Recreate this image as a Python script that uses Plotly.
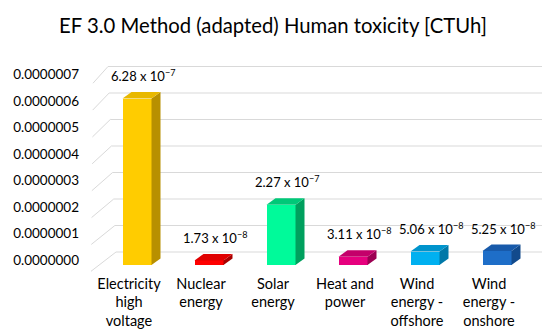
import plotly.graph_objects as go

# ---------------- data ----------------
categories = ["Electricity<br>high<br>voltage", "Nuclear<br>energy", "Solar<br>energy",
              "Heat and<br>power", "Wind<br>energy -<br>offshore", "Wind<br>energy -<br>onshore"]
values = [6.28e-7, 1.73e-8, 2.27e-7, 3.11e-8, 5.06e-8, 5.25e-8]
value_labels = ["6.28 x 10<sup>\u22127</sup>", "1.73 x 10<sup>\u22128</sup>", "2.27 x 10<sup>\u22127</sup>",
                "3.11 x 10<sup>\u22128</sup>", "5.06 x 10<sup>\u22128</sup>", "5.25 x 10<sup>\u22128</sup>"]
y_ticks = [0, 1e-7, 2e-7, 3e-7, 4e-7, 5e-7, 6e-7, 7e-7]
y_tick_text = ["0.0000000", "0.0000001", "0.0000002", "0.0000003",
               "0.0000004", "0.0000005", "0.0000006", "0.0000007"]

front_colors = ["#FFCC00", "#FF0000", "#00FA9A", "#E6007E", "#00B0F0", "#1E6EC8"]
top_colors = ["#E8B800", "#E00000", "#00C878", "#C4006A", "#0094CC", "#185AAA"]
side_colors = ["#B89000", "#A80000", "#00A05E", "#9C0052", "#0078A8", "#124A8C"]

# ---------------- geometry helpers (pixel scale of the picture) ----------------
W, H = 550, 329
L, R, T, B = 82, 5, 50, 64
X0_PX, X_STEP = 121, 72          # category centre pixel / spacing
Y0_PX, Y_UNIT = 257, 26.5        # front-plane zero / pixels per 1e-7


def xd(px):
    return (px - X0_PX) / X_STEP


def yd(px):
    return (Y0_PX - px) / Y_UNIT * 1e-7


def dxd(px):
    return px / X_STEP


def dyd(px):
    return px / Y_UNIT * 1e-7


bar_off = dxd(8)        # bar front centre offset from category centre
bar_w = dxd(29)
depth_x = dxd(9)
depth_y = dyd(6.5)

fig = go.Figure()

xs = [i + bar_off for i in range(len(values))]
fig.add_trace(go.Bar(x=xs, y=values, width=bar_w, marker=dict(color=front_colors, line=dict(width=0)),
                     showlegend=False, hoverinfo="skip"))

for i, v in enumerate(values):
    xl = xs[i] - bar_w / 2
    xr = xs[i] + bar_w / 2
    # side face
    fig.add_trace(go.Scatter(x=[xr, xr, xr + depth_x, xr + depth_x, xr],
                             y=[0, v, v + depth_y, depth_y, 0],
                             fill="toself", fillcolor=side_colors[i], mode="lines",
                             line=dict(width=0, color=side_colors[i]), showlegend=False, hoverinfo="skip"))
    # top face
    fig.add_trace(go.Scatter(x=[xl, xr, xr + depth_x, xl + depth_x, xl],
                             y=[v, v, v + depth_y, v + depth_y, v],
                             fill="toself", fillcolor=top_colors[i], mode="lines",
                             line=dict(width=0, color=top_colors[i]), showlegend=False, hoverinfo="skip"))
    fig.add_annotation(x=xs[i] + dxd(6), y=v, text=value_labels[i], showarrow=False,
                       yanchor="middle", yshift=23, font=dict(family="Lato", size=13, color="#000000"))

# back wall gridlines and slanted floor/side lines
grid_color = "#D9D9D9"
back_off = 13
for k, t in enumerate(y_ticks):
    frac = k / (len(y_ticks) - 1)
    back_y_px = Y0_PX - back_off - t / 1e-7 * Y_UNIT
    back_x_px = 108 - 8 * frac
    front_x_px = 83 + 2 * frac
    front_y_px = back_y_px + 19.3 - 2.6 * frac
    fig.add_shape(type="line", x0=xd(back_x_px), x1=xd(543), y0=yd(back_y_px), y1=yd(back_y_px),
                  line=dict(color=grid_color, width=1), layer="below")
    fig.add_shape(type="line", x0=xd(front_x_px), x1=xd(back_x_px), y0=yd(front_y_px), y1=yd(back_y_px),
                  line=dict(color=grid_color, width=1), layer="below")

fig.update_layout(
    width=W, height=H, autosize=False,
    margin=dict(l=L, r=R, t=T, b=B),
    paper_bgcolor="white", plot_bgcolor="white",
    title=dict(text="EF 3.0 Method (adapted) Human toxicity [CTUh]", x=265 / W, xanchor="center",
               y=1 - 18 / H, yanchor="middle", font=dict(family="Lato", size=20.3, color="#000000")),
    xaxis=dict(range=[xd(L), xd(W - R)], tickvals=list(range(len(categories))), ticktext=categories,
               showgrid=False, zeroline=False, showline=False, ticks="", fixedrange=True,
               tickfont=dict(family="Lato", size=14.5, color="#000000")),
    yaxis=dict(range=[yd(H - B), yd(T)], tickvals=y_ticks, ticktext=y_tick_text,
               showgrid=False, zeroline=False, showline=False, ticks="", fixedrange=True,
               ticklabelshift=-5, ticklabelstandoff=10,
               tickfont=dict(family="Lato", size=13.5, color="#000000")),
    bargap=0,
)

fig.write_html("out.html")
